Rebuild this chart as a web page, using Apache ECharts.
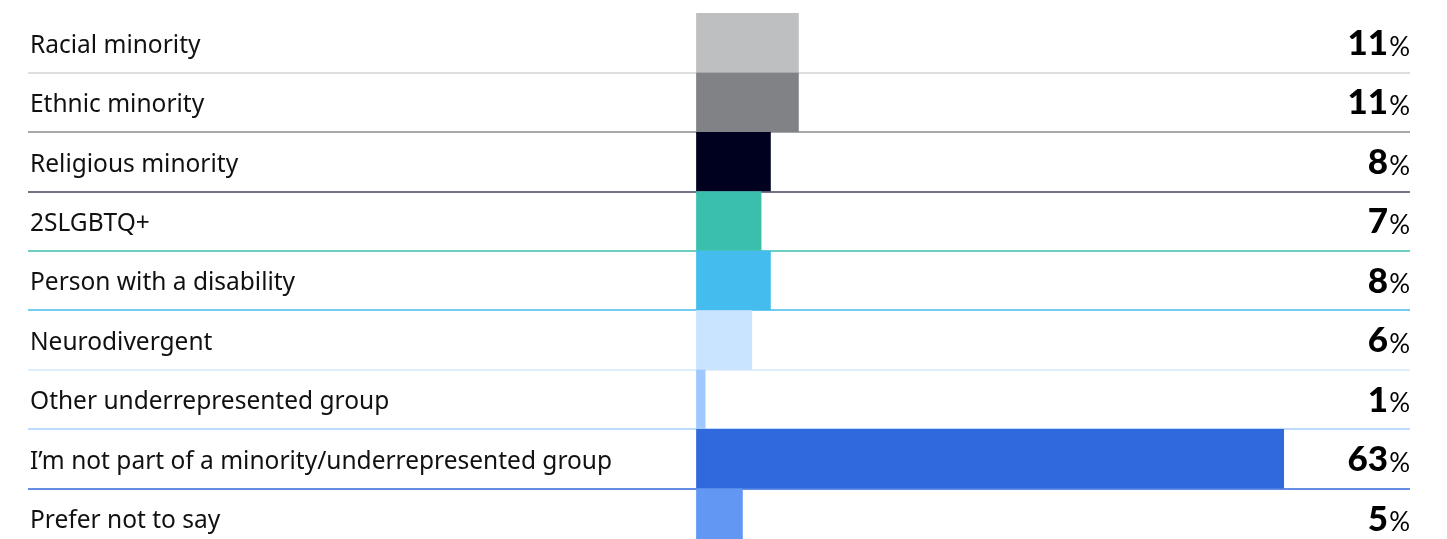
<!DOCTYPE html>
<html>
<head>
<meta charset="utf-8">
<script src="https://cdn.jsdelivr.net/npm/echarts@6/dist/echarts.min.js"></script>
<style>
html,body{margin:0;padding:0;background:#fff;}
#chart{width:1447px;height:539px;}
</style>
</head>
<body>
<div id="chart"></div>
<script>
const categories = [
  "Racial minority",
  "Ethnic minority",
  "Religious minority",
  "2SLGBTQ+",
  "Person with a disability",
  "Neurodivergent",
  "Other underrepresented group",
  "I\u2019m not part of a minority/underrepresented group",
  "Prefer not to say"
];
const values = [11, 11, 8, 7, 8, 6, 1, 63, 5];
const barColors = ["#bebfc1", "#818286", "#00011f", "#3bbfad", "#44bdee", "#c8e4fe", "#9fc8ff", "#2f69db", "#6297f4"];
const lineColors = ["#d2d3d5", "#8a8b8f", "#45465f", "#3bbfad", "#44bdee", "#d4e9fd", "#a8cefd", "#2f69db"];

const chart = echarts.init(document.getElementById('chart'), null, {renderer: 'canvas'});
chart.setOption({
  animation: false,
  grid: {left: 28, right: 37, top: 13, height: 535, containLabel: false, outerBoundsMode: 'none'},
  xAxis: {
    type: 'value', min: -71.6, max: 76.5,
    show: false, splitLine: {show: false}
  },
  yAxis: [
    {
      type: 'category', inverse: true, data: categories, position: 'left',
      axisLine: {show: false}, axisTick: {show: false},
      axisLabel: {
        inside: true, margin: 2, interval: 0,
        formatter: (v) => '{t|' + v + '}',
        rich: {t: {fontSize: 24.5, color: '#111', fontFamily: 'Noto Sans', padding: [6, 0, 0, 0]}}
      },
      splitLine: {show: true, interval: 0, lineStyle: {width: 1.5, color: ['rgba(0,0,0,0)'].concat(lineColors, ['rgba(0,0,0,0)'])}}
    },
    {
      type: 'category', inverse: true, data: categories, position: 'right',
      axisLine: {show: false}, axisTick: {show: false}, splitLine: {show: false},
      axisLabel: {
        interval: 0, margin: 0, align: 'right',
        formatter: (v, i) => '{n|' + values[i] + '}{p|%}',
        rich: {
          n: {fontSize: 35, fontWeight: 900, fontFamily: 'Lato', color: '#000', verticalAlign: 'bottom', padding: [2, 0, 0, 0]},
          p: {fontSize: 26, fontFamily: 'Lato', color: '#000', verticalAlign: 'bottom', padding: [2, 0, 1, 1]}
        }
      }
    }
  ],
  series: [{
    type: 'bar', yAxisIndex: 0, barCategoryGap: 0,
    data: values.map((v, i) => ({value: v, itemStyle: {color: barColors[i]}}))
  }]
});
</script>
</body>
</html>
